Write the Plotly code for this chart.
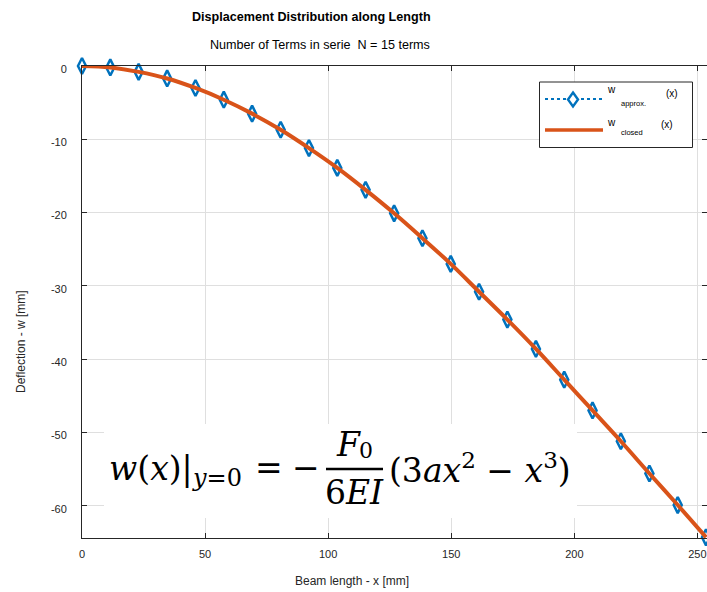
import plotly.graph_objects as go

# Beam deflection: series approximation vs. closed-form solution
x_pos = [0.0, 11.5, 23.0, 34.6, 46.1, 57.6, 69.1, 80.7, 92.2, 103.7, 115.2, 126.8,
         138.3, 149.8, 161.3, 172.8, 184.4, 195.9, 207.4, 218.9, 230.5, 242.0, 253.5]
w_approx = [0.0, -0.2, -0.8, -1.7, -3.0, -4.6, -6.5, -8.7, -11.2, -13.9, -16.9, -20.1,
            -23.5, -27.0, -30.8, -34.6, -38.6, -42.8, -47.0, -51.2, -55.6, -59.9, -64.3]
w_closed = [0.0, -0.2, -0.8, -1.7, -3.0, -4.6, -6.5, -8.7, -11.2, -13.9, -16.9, -20.1,
            -23.5, -27.0, -30.8, -34.6, -38.6, -42.8, -47.0, -51.2, -55.6, -59.9, -64.3]

x_ticks = [0, 50, 100, 150, 200, 250]
y_ticks = [0, -10, -20, -30, -40, -50, -60]
y_tick_labels = ["0", "-10", "-20", "-30", "-40", "-50", "-60"]

BLUE = "#0072BD"
ORANGE = "#D95319"
AXIS = "#262626"
GRID = "#dfdfdf"
SANS = "Liberation Sans, Arial, sans-serif"
SERIF = "DejaVu Serif, serif"

W, H = 707, 592
ML, MR, MT, MB = 82, 0, 66, 54
PW, PH = W - ML - MR, H - MT - MB


def px(xp):
    return (xp - ML) / PW


def py(yp):
    return (H - MB - yp) / PH


fig = go.Figure()
fig.add_trace(go.Scatter(
    x=x_pos, y=w_approx, mode="lines+markers",
    line=dict(color=BLUE, width=2, dash="dot"),
    marker=dict(symbol="diamond-tall-open", size=11.5, color=BLUE,
                line=dict(width=2.5, color=BLUE)),
    cliponaxis=False, showlegend=False,
))
fig.add_trace(go.Scatter(
    x=x_pos, y=w_closed, mode="lines",
    line=dict(color=ORANGE, width=4, shape="spline"),
    cliponaxis=False, showlegend=False,
))

axis_common = dict(
    showline=True, linecolor=AXIS, linewidth=1, mirror="allticks",
    ticks="inside", ticklen=5, tickcolor=AXIS, tickwidth=1,
    showgrid=True, gridcolor=GRID, gridwidth=1, zeroline=False,
    tickfont=dict(family=SANS, size=11, color=AXIS),
)
fig.update_xaxes(range=[0, 253.9], tickvals=x_ticks, ticklabelstandoff=6, **axis_common)
fig.update_yaxes(range=[-64.4, 0], tickvals=y_ticks, ticktext=y_tick_labels,
                 ticklabelstandoff=12, ticklabelshift=3, **axis_common)

ann = []


def text(x, y, s, size, family=SANS, color="black", xa="center", ya="middle", angle=0):
    ann.append(dict(x=px(x), y=py(y), xref="paper", yref="paper", text=s,
                    showarrow=False, xanchor=xa, yanchor=ya, textangle=angle,
                    font=dict(family=family, size=size, color=color)))


# titles and axis labels
text(311.5, 17, "<b>Displacement Distribution along Length</b>", 12.6)
text(320, 45, "Number of Terms in serie\u00a0 N = 15 terms", 12.6)
text(352, 581, "Beam length - x [mm]", 12, color=AXIS)
text(21, 341, "Deflection - w [mm]", 12, color=AXIS, angle=-90)

shapes = []

# formula panel
shapes.append(dict(type="rect", xref="paper", yref="paper", layer="above",
                   x0=px(104), x1=px(577), y0=py(518), y1=py(424),
                   fillcolor="white", line=dict(width=0)))
shapes.append(dict(type="line", xref="paper", yref="paper", layer="above",
                   x0=px(326), x1=px(383), y0=py(469), y1=py(469),
                   line=dict(color="black", width=2.4)))
text(107, 468, "<i>w</i>(<i>x</i>)|", 33, family=SERIF, xa="left")
text(190, 478, "<i>y</i>=0", 24, family=SERIF, xa="left")
text(269, 467, "=", 33, family=SERIF)
text(306, 467, "\u2212", 33, family=SERIF)
text(348, 444, "<i>F</i>", 33, family=SERIF)
text(366, 450, "0", 22, family=SERIF)
text(354, 492, "6<i>EI</i>", 33, family=SERIF)
text(387, 468, "(3<i>ax</i><sup>2</sup> \u2212 <i>x</i><sup>3</sup>)", 33, family=SERIF, xa="left")

# legend box
shapes.append(dict(type="rect", xref="paper", yref="paper", layer="above",
                   x0=px(539.5), x1=px(692.5), y0=py(147.5), y1=py(82),
                   fillcolor="white", line=dict(color=AXIS, width=1)))
shapes.append(dict(type="line", xref="paper", yref="paper", layer="above",
                   x0=px(545), x1=px(603), y0=py(99), y1=py(99),
                   line=dict(color=BLUE, width=2, dash="dot")))
shapes.append(dict(type="path", xref="paper", yref="paper", layer="above",
                   xsizemode="pixel", ysizemode="pixel", xanchor=px(573), yanchor=py(99.5),
                   path="M0,7 L5,0 L0,-7 L-5,0 Z",
                   fillcolor="white", line=dict(color=BLUE, width=2.4)))
shapes.append(dict(type="line", xref="paper", yref="paper", layer="above",
                   x0=px(545), x1=px(603), y0=py(130), y1=py(130),
                   line=dict(color=ORANGE, width=3.5)))
text(611, 90, "w", 10)
text(633, 103, "approx.", 7.5)
text(672, 94, "(x)", 10)
text(611, 122, "w", 10)
text(632, 133, "closed", 7.5)
text(667, 124, "(x)", 10)

fig.update_layout(
    width=W, height=H,
    margin=dict(l=ML, r=MR, t=MT, b=MB, pad=0),
    paper_bgcolor="white", plot_bgcolor="white",
    showlegend=False,
    annotations=ann, shapes=shapes,
)

fig.write_html("out.html")
